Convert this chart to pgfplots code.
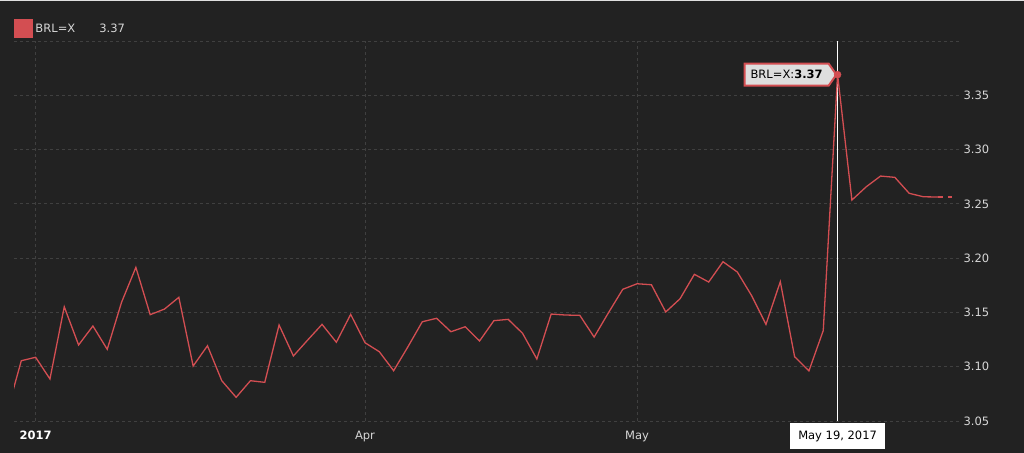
\documentclass[border=0pt]{standalone}
\usepackage{fontspec}
\setmainfont{DejaVu Sans}
\usepackage{pgfplots}
\pgfplotsset{compat=1.18}
\usetikzlibrary{shapes.symbols}

\definecolor{bg}{RGB}{34,34,34}
\definecolor{brl}{RGB}{211,78,82}
\definecolor{gridc}{RGB}{64,64,64}
\definecolor{lbl}{RGB}{215,215,215}
\definecolor{tipbg}{RGB}{222,222,222}
\newcommand\lblfont{\fontsize{11.5bp}{13bp}\selectfont}

\begin{document}
\begin{tikzpicture}[x=1bp,y=1bp]
\fill[bg] (0,0) rectangle (1024,453);
\fill[black!12] (0,451.5) rectangle (1024,453);
\begin{axis}[
  at={(14bp,32bp)}, anchor=south west,
  width=946bp, height=380bp, scale only axis,
  xmin=0.49, xmax=66.55, ymin=3.05, ymax=3.40,
  axis line style={draw=none},
  major tick length=0pt,
  xtick={2,25,44},
  xticklabels={{\bfseries\color{white}2017},Apr,May},
  ytick={3.05,3.10,3.15,3.20,3.25,3.30,3.35,3.40},
  yticklabels={3.05,3.10,3.15,3.20,3.25,3.30,3.35,},
  yticklabel pos=right,
  grid=major,
  major grid style={gridc, dash pattern=on 3bp off 3bp, line width=0.8bp},
  tick label style={lbl, font=\lblfont},
  yticklabel style={anchor=west},
  xticklabel style={anchor=north, text height=8.5bp, text depth=2.5bp, yshift=-6bp},
  legend style={at={(0,1)}, anchor=south west, draw=none, fill=none,
    text=lbl, font=\lblfont, inner sep=0pt, yshift=3bp},
  legend cell align=left,
]
% cursor line at May 19
\addplot[white, line width=1bp, forget plot] coordinates {(58,3.05) (58,3.40)};

\addplot[brl, line width=1.3bp,
  legend image code/.code={\fill[brl] (0bp,-8.5bp) rectangle (18bp,8.5bp);}]
  table {
x y
0 3.0580
1 3.1055
2 3.1087
3 3.0887
4 3.1552
5 3.1200
6 3.1375
7 3.1160
8 3.1593
9 3.1915
10 3.1479
11 3.1531
12 3.1639
13 3.1006
14 3.1193
15 3.0871
16 3.0718
17 3.0871
18 3.0856
19 3.1384
20 3.1099
21 3.1246
22 3.1390
23 3.1225
24 3.1482
25 3.1221
26 3.1138
27 3.0963
28 3.1184
29 3.1414
30 3.1446
31 3.1322
32 3.1368
33 3.1237
34 3.1424
35 3.1436
36 3.1308
37 3.1071
38 3.1485
39 3.1476
40 3.1473
41 3.1273
42 3.1497
43 3.1713
44 3.1764
45 3.1755
46 3.1504
47 3.1626
48 3.1851
49 3.1780
50 3.1967
51 3.1872
52 3.1654
53 3.1390
54 3.1783
55 3.1092
56 3.0962
57 3.1333
58 3.3690
59 3.2535
60 3.2657
61 3.2756
62 3.2744
63 3.2597
64 3.2565
65 3.2563
};
\addlegendentry{BRL=X\hspace{24bp}3.37}
\addplot[brl, line width=1.3bp, dash pattern=on 5bp off 5bp, forget plot]
  coordinates {(65,3.2563) (66,3.2563)};

% tooltip
\node[signal, signal to=east, signal pointer angle=110, fill=tipbg, draw=brl,
  line width=2bp, anchor=east, inner xsep=6bp, inner ysep=0pt,
  minimum height=22bp, text=black, font=\lblfont]
  at (axis cs:58,3.369) {BRL=X:\textbf{3.37}};
\addplot[only marks, mark=*, mark size=3.5bp, brl, forget plot]
  coordinates {(58,3.369)};
\coordinate (dt) at (axis cs:58,3.05);
\end{axis}
\node[fill=white, text=black, anchor=north, minimum height=26bp,
  inner xsep=8bp, font=\lblfont] at ([yshift=-2bp]dt) {May 19, 2017};
\end{tikzpicture}
\end{document}
